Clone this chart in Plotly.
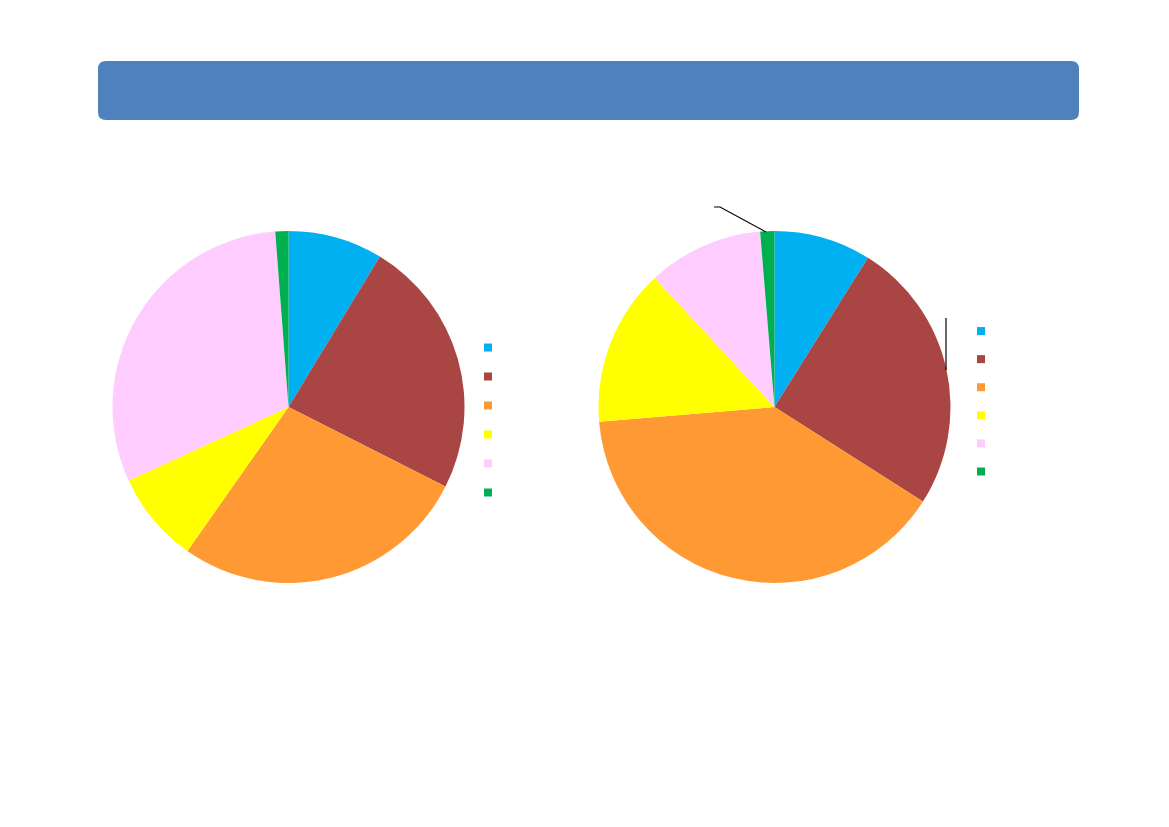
import plotly.graph_objects as go

W, H = 1169, 827
OFF = 8  # default page body margin
FW, FH = W - 2 * OFF, H - 2 * OFF

categories = ["Cat 1", "Cat 2", "Cat 3", "Cat 4", "Cat 5", "Cat 6"]
colors = ["#00B0F0", "#A94543", "#FF9933", "#FFFF00", "#FFCCFF", "#00B050"]
left_values = [8.7, 23.8, 27.3, 8.4, 30.7, 1.2]
right_values = [8.9, 25.1, 39.6, 14.4, 10.6, 1.3]


def px(x):
    return (x - OFF) / FW


def py(y):
    return 1 - (y - OFF) / FH


fig = go.Figure()

fig.add_trace(go.Pie(
    labels=categories, values=left_values, sort=False, direction="clockwise",
    rotation=0, textinfo="none", hoverinfo="label+percent",
    marker=dict(colors=colors, line=dict(width=0)),
    domain=dict(x=[px(112.5), px(464.5)], y=[py(583), py(231)]),
    showlegend=False,
))
fig.add_trace(go.Pie(
    labels=categories, values=right_values, sort=False, direction="clockwise",
    rotation=0, textinfo="none", hoverinfo="label+percent",
    marker=dict(colors=colors, line=dict(width=0)),
    domain=dict(x=[px(598.5), px(950.5)], y=[py(583), py(231)]),
    showlegend=False,
))

# legend entries (square markers) for each pie
for leg in ["legend", "legend2"]:
    for name, col in zip(categories, colors):
        fig.add_trace(go.Scatter(
            x=[None], y=[None], mode="markers", name=name,
            marker=dict(symbol="square", size=8, color=col),
            legend=leg, showlegend=True, hoverinfo="skip",
        ))

# title bar (rounded rectangle)
x0, x1, y0, y1, r = 98, 1079, 61, 120, 8
path = (f"M {px(x0 + r)},{py(y0)} L {px(x1 - r)},{py(y0)} "
        f"Q {px(x1)},{py(y0)} {px(x1)},{py(y0 + r)} L {px(x1)},{py(y1 - r)} "
        f"Q {px(x1)},{py(y1)} {px(x1 - r)},{py(y1)} L {px(x0 + r)},{py(y1)} "
        f"Q {px(x0)},{py(y1)} {px(x0)},{py(y1 - r)} L {px(x0)},{py(y0 + r)} "
        f"Q {px(x0)},{py(y0)} {px(x0 + r)},{py(y0)} Z")
shapes = [dict(type="path", xref="paper", yref="paper", path=path,
               fillcolor="#4F81BD", line=dict(width=0), layer="below")]

# leader lines (labels not visible in reference)
shapes.append(dict(type="path", xref="paper", yref="paper",
                   path=f"M {px(766)},{py(232)} L {px(720)},{py(207)} L {px(714)},{py(207)}",
                   line=dict(color="black", width=1.2)))
shapes.append(dict(type="line", xref="paper", yref="paper",
                   x0=px(946), x1=px(946), y0=py(318), y1=py(370),
                   line=dict(color="black", width=1.2)))

fig.update_layout(
    width=FW, height=FH,
    margin=dict(l=0, r=0, t=0, b=0),
    paper_bgcolor="white", plot_bgcolor="white",
    xaxis=dict(visible=False), yaxis=dict(visible=False),
    shapes=shapes,
    showlegend=True,
    legend=dict(x=px(468), y=py(328), xanchor="left", yanchor="top",
                font=dict(size=20, color="rgba(0,0,0,0)", family="Liberation Sans"),
                bgcolor="rgba(0,0,0,0)"),
    legend2=dict(x=px(961), y=py(312), xanchor="left", yanchor="top",
                 font=dict(size=19.3, color="rgba(0,0,0,0)", family="Liberation Sans"),
                 bgcolor="rgba(0,0,0,0)"),
)

fig.write_html("out.html")
